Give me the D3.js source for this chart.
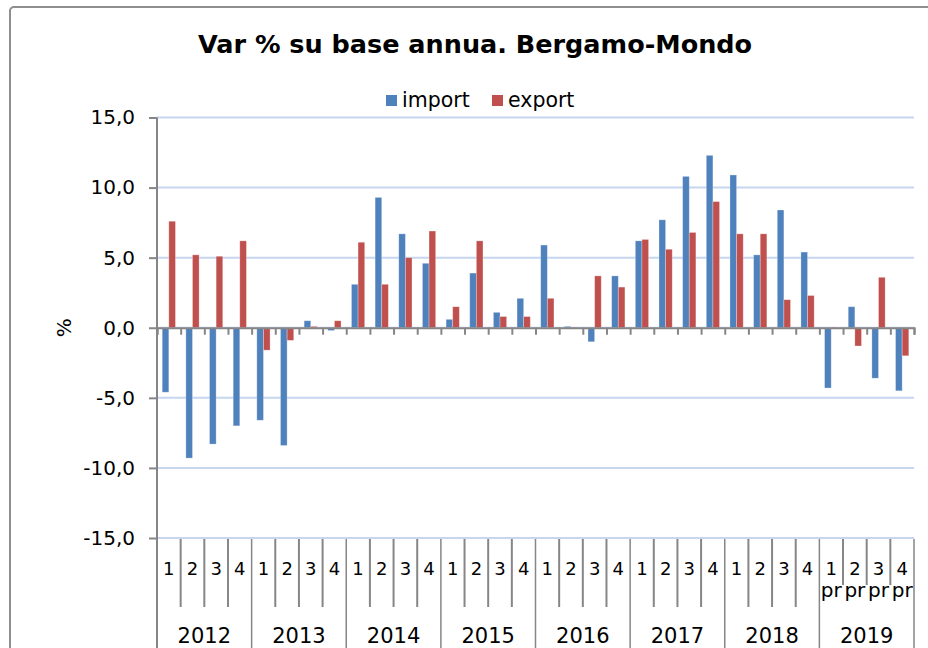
<!DOCTYPE html>
<html>
<head>
<meta charset="utf-8">
<script src="https://cdn.jsdelivr.net/npm/d3@7"></script>
<style>
  body { margin: 0; background: #fff; }
  svg { display: block; font-family: "DejaVu Sans", Verdana, sans-serif; }
</style>
</head>
<body>
<div id="chart"></div>
<script>
// chart values
const years = ['2012', '2013', '2014', '2015', '2016', '2017', '2018', '2019'];
const quarters = ['1', '2', '3', '4'];
const provisionalYears = ['2019'];
const importVals = [-4.6, -9.3, -8.3, -7.0, -6.6, -8.4, 0.5, -0.2,
                     3.1, 9.3, 6.7, 4.6, 0.6, 3.9, 1.1, 2.1,
                     5.9, 0.1, -1.0, 3.7, 6.2, 7.7, 10.8, 12.3,
                     10.9, 5.2, 8.4, 5.4, -4.3, 1.5, -3.6, -4.5];
const exportVals = [7.6, 5.2, 5.1, 6.2, -1.6, -0.9, 0.1, 0.5,
                    6.1, 3.1, 5.0, 6.9, 1.5, 6.2, 0.8, 0.8,
                    2.1, 0.05, 3.7, 2.9, 6.3, 5.6, 6.8, 9.0,
                    6.7, 6.7, 2.0, 2.3, 0.05, -1.3, 3.6, -2.0];
const seriesNames = ['import', 'export'];
const yTicks = [-15, -10, -5, 0, 5, 10, 15];

const width = 928, height = 648;
const plotLeft = 157, plotRight = 914, plotTop = 117.5, plotBottom = 538;
const colors = {import: '#4f81bd', export: '#c0504d'};
const axisGray = '#868686';

const rows = [];
years.forEach((yr, yi) => {
  quarters.forEach((q, qi) => {
    const i = yi * 4 + qi;
    rows.push({id: yr + '-' + q, year: yr, q: q, pr: provisionalYears.includes(yr),
               import: importVals[i], export: exportVals[i]});
  });
});

const locale = d3.formatLocale({decimal: ',', thousands: '.', grouping: [3], currency: ['', ''], minus: '-'});
const fmt = locale.format('.1f');

const svg = d3.select('#chart').append('svg')
  .attr('width', width)
  .attr('height', height);

// outer frame
svg.append('rect')
  .attr('x', 10).attr('y', 7)
  .attr('width', 940).attr('height', 680)
  .attr('rx', 4)
  .attr('fill', 'none')
  .attr('stroke', '#8e8e8e')
  .attr('stroke-width', 2);

const y = d3.scaleLinear([-15, 15], [plotBottom, plotTop]);
const x0 = d3.scaleBand(rows.map(d => d.id), [plotLeft, plotRight]);
const x1 = d3.scaleBand(seriesNames, [x0.bandwidth() * 0.22, x0.bandwidth() * 0.78]);
const xb = d3.scaleLinear([0, rows.length], [plotLeft, plotRight]);
const xYear = d3.scaleBand(years, [plotLeft, plotRight]);

// gridlines
svg.append('g')
  .selectAll('line')
  .data(yTicks)
  .join('line')
    .attr('x1', plotLeft).attr('x2', plotRight)
    .attr('y1', d => y(d)).attr('y2', d => y(d))
    .attr('stroke', '#c6d6ef')
    .attr('stroke-width', 2);

// y axis
const yAxis = svg.append('g')
  .attr('transform', `translate(${plotLeft},0)`)
  .call(d3.axisLeft(y).tickValues(yTicks).tickFormat(fmt).tickSize(8).tickPadding(14));
yAxis.select('.domain').remove();
yAxis.selectAll('.tick line').attr('stroke', axisGray).attr('stroke-width', 2);
yAxis.selectAll('.tick text')
  .attr('fill', '#000')
  .style('font-size', '20px')
  .style('font-family', '"DejaVu Sans", Verdana, sans-serif');

svg.append('line')
  .attr('x1', plotLeft).attr('x2', plotLeft)
  .attr('y1', plotTop).attr('y2', height)
  .attr('stroke', axisGray)
  .attr('stroke-width', 2);

svg.append('text')
  .attr('transform', `translate(64,${y(0)}) rotate(-90)`)
  .attr('text-anchor', 'middle')
  .attr('dy', '0.35em')
  .style('font-size', '20px')
  .text('%');

// bars
const groups = svg.append('g')
  .selectAll('g')
  .data(rows)
  .join('g')
    .attr('transform', d => `translate(${x0(d.id)},0)`);

groups.selectAll('rect')
  .data(d => seriesNames.map(k => ({key: k, value: d[k]})))
  .join('rect')
    .attr('x', d => x1(d.key))
    .attr('width', x1.bandwidth())
    .attr('y', d => y(Math.max(0, d.value)))
    .attr('height', d => Math.abs(y(d.value) - y(0)))
    .attr('fill', d => colors[d.key])
    .attr('stroke', 'rgba(255,255,255,0.35)')
    .attr('stroke-width', 0.8);

// category axis on zero line
const xAxis = svg.append('g')
  .attr('transform', `translate(0,${y(0)})`)
  .call(d3.axisBottom(xb).tickValues(d3.range(rows.length + 1)).tickSize(7).tickFormat(''));
xAxis.select('.domain').attr('stroke', axisGray).attr('stroke-width', 2);
xAxis.selectAll('.tick line').attr('stroke', axisGray).attr('stroke-width', 2);

// multi-level labels under the plot
const sepTop = plotBottom + 1;
svg.append('g')
  .selectAll('line')
  .data(d3.range(1, rows.length + 1))
  .join('line')
    .attr('x1', d => xb(d)).attr('x2', d => xb(d))
    .attr('y1', sepTop)
    .attr('y2', d => d % 4 === 0 ? height : (rows[d] && rows[d].pr ? 585 : 607))
    .attr('stroke', axisGray)
    .attr('stroke-width', d => d % 4 === 0 ? 1.5 : 2);

const qLabels = svg.append('g')
  .selectAll('text')
  .data(rows)
  .join('text')
    .attr('x', d => x0(d.id) + x0.bandwidth() / 2)
    .attr('y', 575)
    .attr('text-anchor', 'middle')
    .style('font-size', '18px');
qLabels.append('tspan').text(d => d.q);
qLabels.filter(d => d.pr).append('tspan')
  .attr('x', d => x0(d.id) + x0.bandwidth() / 2)
  .attr('dy', 22)
  .style('font-size', '20px')
  .text('pr');

svg.append('g')
  .selectAll('text')
  .data(years)
  .join('text')
    .attr('x', d => xYear(d) + xYear.bandwidth() / 2)
    .attr('y', 643)
    .attr('text-anchor', 'middle')
    .style('font-size', '21px')
    .text(d => d);

// title
svg.append('text')
  .attr('x', 475)
  .attr('y', 53)
  .attr('text-anchor', 'middle')
  .style('font-size', '25.5px')
  .style('font-weight', 'bold')
  .text('Var % su base annua. Bergamo-Mondo');

// legend
const legend = svg.append('g')
  .selectAll('g')
  .data(seriesNames)
  .join('g')
    .attr('transform', (d, i) => `translate(${386 + i * 106},95)`);
legend.append('rect')
  .attr('width', 11).attr('height', 11)
  .attr('fill', d => colors[d]);
legend.append('text')
  .attr('x', 16)
  .attr('y', 12)
  .style('font-size', '20.5px')
  .text(d => d);
</script>
</body>
</html>
